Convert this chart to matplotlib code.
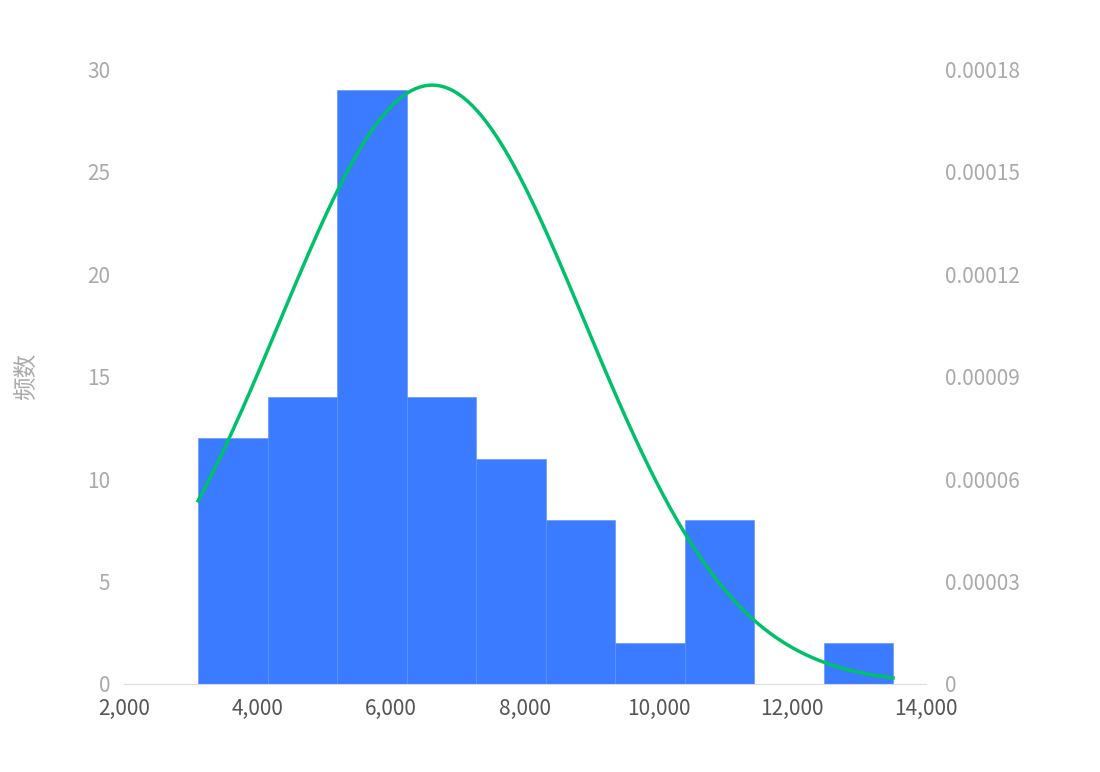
import numpy as np
import matplotlib
matplotlib.use("Agg")
import matplotlib.pyplot as plt

plt.rcParams['font.family'] = ['Noto Sans CJK SC', 'DejaVu Sans']

bin_edges = [3108, 4148, 5188, 6228, 7268, 8308, 9348, 10388, 11428, 12468, 13508]
counts = [12, 14, 29, 14, 11, 8, 2, 8, 0, 2]
fit_mean = 6611
fit_std = 2276
y_ticks = [0, 5, 10, 15, 20, 25, 30]
y2_ticks = [0, 0.00003, 0.00006, 0.00009, 0.00012, 0.00015, 0.00018]
y2_labels = ["0", "0.00003", "0.00006", "0.00009", "0.00012", "0.00015", "0.00018"]
x_ticks = [2000, 4000, 6000, 8000, 10000, 12000, 14000]

fig = plt.figure(figsize=(11, 7.72), dpi=100)
ax = fig.add_axes([0.1127, 0.114, 0.7291, 0.7966])
edges = np.array(bin_edges)
ax.bar(edges[:-1], counts, width=np.diff(edges), align='edge', color='#3a7bff',
       edgecolor='#5a90ff', linewidth=0.4)
ax.set_xlim(2000, 14000)
ax.set_ylim(0, 30)
ax.set_xticks(x_ticks)
ax.set_xticklabels([f"{v:,}" for v in x_ticks], color='#555555', fontsize=15)
ax.set_yticks(y_ticks)
ax.set_yticklabels([str(v) for v in y_ticks], color='#aaaaaa', fontsize=15)
ax.tick_params(length=0, pad=10)
ax.set_ylabel("频数", color='#aaaaaa', fontsize=17, labelpad=35)
for s in ['top', 'right', 'left']:
    ax.spines[s].set_visible(False)
ax.spines['bottom'].set_color('#dddddd')

ax2 = ax.twinx()
xs = np.linspace(bin_edges[0], bin_edges[-1], 300)
ys = np.exp(-0.5 * ((xs - fit_mean) / fit_std) ** 2) / (fit_std * np.sqrt(2 * np.pi))
ax2.plot(xs, ys, color='#00c06a', linewidth=2.5)
ax2.set_ylim(0, 0.00018)
ax2.set_yticks(y2_ticks)
ax2.set_yticklabels(y2_labels, color='#aaaaaa', fontsize=15)
ax2.tick_params(length=0, pad=14)
for s in ax2.spines.values():
    s.set_visible(False)

fig.savefig("out.png", dpi=100)
